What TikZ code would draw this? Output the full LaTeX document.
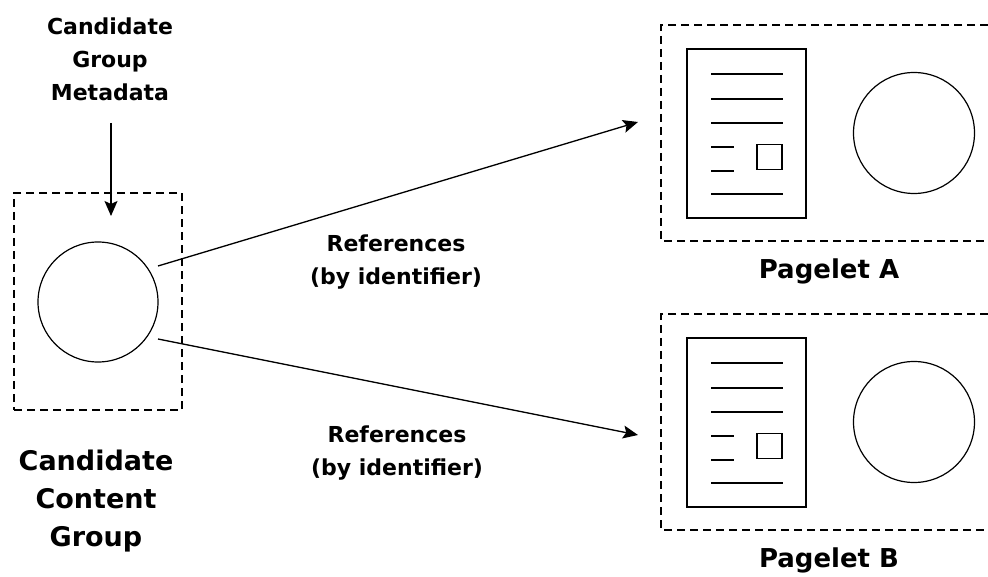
\documentclass[tikz,border=0pt]{standalone}
\usepackage{fontspec}
\setmainfont{DejaVu Sans}
\usetikzlibrary{arrows.meta}

\begin{document}
\begin{tikzpicture}[x=1pt,y=-1pt]

    \tikzset{caption/.style = {font=\bfseries\fontsize{22}{33}\selectfont, align=center, inner sep=0pt}}
    \tikzset{bigcaption/.style = {font=\bfseries\fontsize{27}{38}\selectfont, align=center, inner sep=0pt}}
    \tikzset{title/.style = {font=\bfseries\fontsize{26}{30}\selectfont, inner sep=0pt}}
    \tikzset{group/.style = {draw, dash pattern=on 8pt off 5pt, line width=1.5pt}}
    \tikzset{ball/.style = {shape=circle, draw, line width=1.2pt, minimum size=121pt, inner sep=0pt}}
    \tikzset{page/.style = {shape=rectangle, draw, line width=2pt, minimum width=119pt, minimum height=169pt, inner sep=0pt}}
    \tikzset{figbox/.style = {shape=rectangle, draw, line width=1.5pt, minimum size=25pt, inner sep=0pt}}
    \tikzset{textline/.style = {line width=1.5pt}}
    \tikzset{edge/.style = {-{Stealth[length=15pt,width=13pt,inset=3pt]}, line width=1.3pt}}
    \useasboundingbox (0,0) rectangle (988,577);

    % candidate group
    \node[caption] (meta) at (110,59) {Candidate\\Group\\Metadata};
    \node[group, minimum width=168pt, minimum height=217pt, inner sep=0pt] (cgroup) at (98,301.5) {};
    \node[ball, minimum size=120pt] (cball) at (98,302) {};
    \node[bigcaption] (cname) at (96,501) {Candidate\\Content\\Group};
    \coordinate (meta-out) at (111,123);
    \coordinate (meta-in) at (111,216);

    % pagelets
    \foreach \name/\dy in {A/0,B/289} {
        \draw[group] (988,25+\dy) -| (661,241+\dy) -- (988,241+\dy);
        \node[page] (doc-\name) at (746.5,133.5+\dy) {};
        \foreach \ly in {74,99,123,194}
            \draw[textline] (711,\ly+\dy) -- (783,\ly+\dy);
        \foreach \ly in {147,171}
            \draw[textline] (711,\ly+\dy) -- (734,\ly+\dy);
        \node[figbox] (img-\name) at (769.5,157+\dy) {};
        \node[ball] (ball-\name) at (914,133+\dy) {};
        \node[title] (title-\name) at (829,271+\dy) {Pagelet \name};
    }

    % references
    \coordinate (ref-a-out) at (158,266);
    \coordinate (ref-a-in) at (638,122);
    \coordinate (ref-b-out) at (158,339);
    \coordinate (ref-b-in) at (638,435);
    \node[caption] (ref-a) at (396,262) {References\\(by identifier)};
    \node[caption] (ref-b) at (397,453) {References\\(by identifier)};

    %edges
    \draw[edge] (meta-out) to (meta-in);
    \draw[edge] (ref-a-out) to (ref-a-in);
    \draw[edge] (ref-b-out) to (ref-b-in);
\end{tikzpicture}
\end{document}
